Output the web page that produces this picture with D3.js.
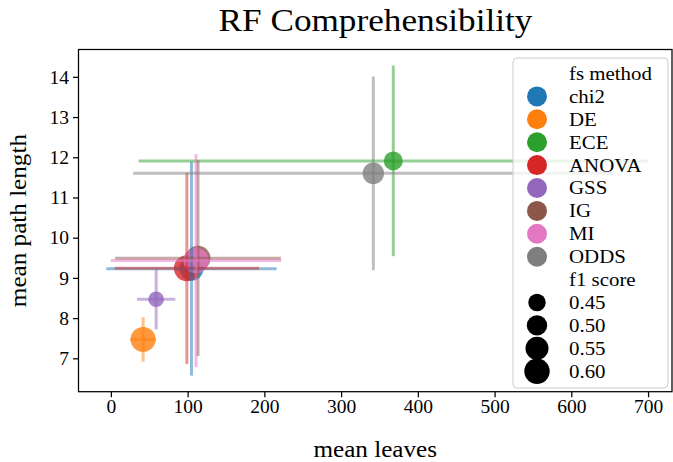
<!DOCTYPE html>
<html>
<head>
<meta charset="utf-8">
<script src="https://cdn.jsdelivr.net/npm/d3@7"></script>
<style>
  html, body { margin: 0; padding: 0; background: #fff; }
  svg { display: block; }
  text { font-family: "Liberation Serif", "Times New Roman", serif; fill: #000; }
</style>
</head>
<body>
<svg id="chart" width="673" height="462"></svg>
<script>
// ---- data ----
const methods    = ["chi2", "DE", "ECE", "ANOVA", "GSS", "IG", "MI", "ODDS"];
const meanLeaves = [105, 42, 368, 99, 59, 113.5, 111, 342];
const leavesErr  = [111, 17, 332, 94, 25, 108, 111, 313];
const meanPath   = [9.23, 7.47, 11.91, 9.24, 8.47, 9.49, 9.43, 11.6];
const pathErr    = [2.66, 0.55, 2.37, 2.38, 0.75, 2.43, 2.65, 2.41];
const f1Score    = [0.57, 0.59, 0.475, 0.61, 0.425, 0.59, 0.60, 0.52];
const xTicks     = [0, 100, 200, 300, 400, 500, 600, 700];
const yTicks     = [7, 8, 9, 10, 11, 12, 13, 14];
const sizeLegend = [0.45, 0.50, 0.55, 0.60];
const colors     = ["#1f77b4", "#ff7f0e", "#2ca02c", "#d62728", "#9467bd", "#8c564b", "#e377c2", "#7f7f7f"];

// ---- layout ----
const L = 78.5, R = 672, T = 49.5, B = 391.7;
const svg = d3.select("#chart");

function widen(factor) {
  return sel => sel.each(function () {
    const w = this.getComputedTextLength();
    d3.select(this).attr("textLength", w * factor).attr("lengthAdjust", "spacingAndGlyphs");
  });
}

const x = d3.scaleLinear().domain([-42.2, 731.2]).range([L, R]);
const y = d3.scaleLinear().domain([6.17, 14.68]).range([B, T]);
const area = d3.scaleLinear().domain([0.45, 0.60]).range([8.7 * 8.7, 12.7 * 12.7]);
const rad = v => Math.sqrt(Math.max(area(v), 4));

const data = methods.map((m, i) => ({
  m, x: meanLeaves[i], xe: leavesErr[i], y: meanPath[i], ye: pathErr[i], f1: f1Score[i], c: colors[i]
}));

// points
const g = svg.append("g");
g.selectAll("circle.pt").data(data).enter().append("circle")
  .attr("class", "pt")
  .attr("cx", d => x(d.x)).attr("cy", d => y(d.y)).attr("r", d => rad(d.f1))
  .attr("fill", d => d.c).attr("fill-opacity", 0.8);

// error bars
data.forEach(d => {
  g.append("line").attr("x1", x(d.x - d.xe)).attr("x2", x(d.x + d.xe))
    .attr("y1", y(d.y)).attr("y2", y(d.y))
    .attr("stroke", d.c).attr("stroke-opacity", 0.5).attr("stroke-width", 3);
  g.append("line").attr("x1", x(d.x)).attr("x2", x(d.x))
    .attr("y1", y(d.y - d.ye)).attr("y2", y(d.y + d.ye))
    .attr("stroke", d.c).attr("stroke-opacity", 0.5).attr("stroke-width", 3);
});

// axes
const xAxis = d3.axisBottom(x).tickValues(xTicks).tickSize(5.5).tickPadding(2.3).tickSizeOuter(0);
const yAxis = d3.axisLeft(y).tickValues(yTicks).tickSize(5.5).tickPadding(4).tickSizeOuter(0);
const gx = svg.append("g").attr("transform", `translate(0,${B})`).call(xAxis);
const gy = svg.append("g").attr("transform", `translate(${L},0)`).call(yAxis);
[gx, gy].forEach(a => {
  a.select(".domain").remove();
  a.selectAll(".tick line").attr("stroke", "#000").attr("stroke-width", 1.25);
  a.selectAll(".tick text").attr("font-family", "Liberation Serif").attr("font-size", 19.5).attr("fill", "#000");
});

// frame
svg.append("rect").attr("x", L).attr("y", T).attr("width", R - L).attr("height", B - T)
  .attr("fill", "none").attr("stroke", "#000").attr("stroke-width", 1.25);

// title & labels
svg.append("text").attr("x", 375.5).attr("y", 31).attr("text-anchor", "middle")
  .attr("font-size", 32).text("RF Comprehensibility").call(widen(1.1));
svg.append("text").attr("x", (L + R) / 2).attr("y", 457).attr("text-anchor", "middle")
  .attr("font-size", 23.5).text("mean leaves").call(widen(1.07));
svg.append("text").attr("transform", `translate(26,${(T + B) / 2}) rotate(-90)`).attr("text-anchor", "middle")
  .attr("font-size", 23.5).text("mean path length").call(widen(1.07));

// legend
const lg = svg.append("g");
lg.append("rect").attr("x", 513).attr("y", 58).attr("width", 155).attr("height", 330)
  .attr("rx", 4).attr("fill", "#fff").attr("fill-opacity", 0.8)
  .attr("stroke", "#cccccc").attr("stroke-width", 1);
const y0 = 73.5, step = 22.9, mx = 537, tx = 569;
const rows = [];
rows.push({ label: "fs method" });
methods.forEach((m, i) => rows.push({ label: m, color: colors[i], r: 10 }));
rows.push({ label: "f1 score" });
sizeLegend.forEach(v => rows.push({ label: v.toFixed(2), color: "#000", r: rad(v) }));
rows.forEach((row, i) => {
  const yy = y0 + i * step;
  if (row.color) lg.append("circle").attr("cx", mx).attr("cy", yy).attr("r", row.r).attr("fill", row.color);
  lg.append("text").attr("x", tx).attr("y", yy).attr("dy", "0.33em")
    .attr("font-size", 19.5).text(row.label).call(widen(1.07));
});
</script>
</body>
</html>
